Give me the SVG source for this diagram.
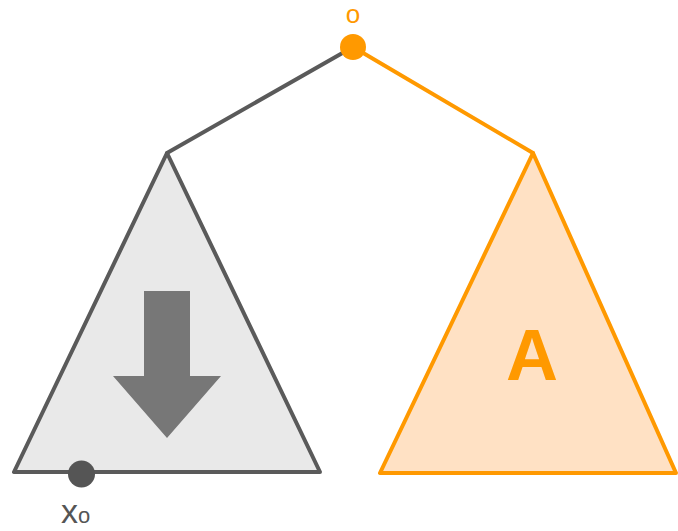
<svg xmlns="http://www.w3.org/2000/svg" width="678" height="531" viewBox="0 0 678 531">
<style>
.gray{stroke:#5a5a5a;stroke-width:4;stroke-linejoin:round;stroke-linecap:round}
.orange{stroke:#ff9900;stroke-width:4;stroke-linejoin:round;stroke-linecap:round}
.lbl{font-family:"Liberation Sans",Arial,sans-serif}
</style>
<rect width="678" height="531" fill="#ffffff"/>
<g id="connectors" fill="none">
<line class="gray" x1="353" y1="47" x2="167" y2="153"/>
<line class="orange" x1="353" y1="47" x2="533" y2="153"/>
</g>
<g id="left-subtree">
<polygon class="gray" points="167,153 14,472 320,472" fill="#e9e9e9"/>
<polygon points="144,291 190,291 190,376 221,376 167,438 113,376 144,376" fill="#777777"/>
</g>
<g id="right-subtree">
<polygon class="orange" points="533,153 380,473 676,473" fill="#ffe1c4"/>
<text class="lbl" x="532" y="380" font-size="72" font-weight="bold" fill="#ff9900" text-anchor="middle">A</text>
</g>
<g id="root">
<circle cx="353" cy="47" r="13" fill="#ff9900"/>
<text class="lbl" x="353" y="23" font-size="26" fill="#ff9900" text-anchor="middle">o</text>
</g>
<g id="x0">
<circle cx="81.5" cy="474" r="13.5" fill="#555555"/>
<text class="lbl" x="61" y="523" font-size="34" fill="#555555">x<tspan font-size="22">o</tspan></text>
</g>
</svg>
